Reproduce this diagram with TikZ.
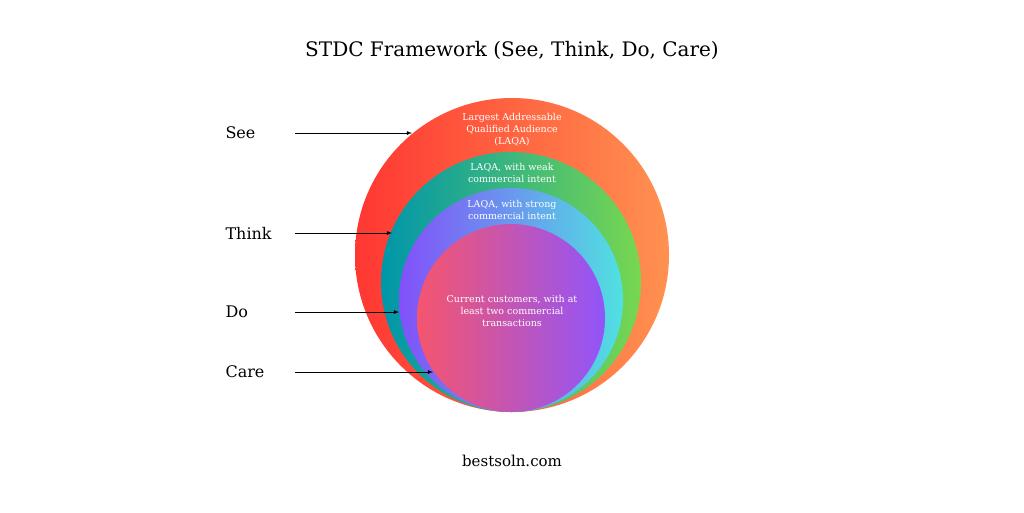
\documentclass[tikz,border=0pt]{standalone}
\usepackage{fontspec}
\setmainfont{DejaVu Serif}
\begin{document}
\begin{tikzpicture}[x=1pt,y=-1pt,
  lab/.style={font=\fontsize{16}{18}\selectfont,anchor=west},
  inner/.style={text=white,font=\fontsize{9.5}{12}\selectfont,align=center},
  arr/.style={-latex,thick}]
\useasboundingbox[fill=white] (0,0) rectangle (1024,512);
\node[font=\fontsize{20}{23}\selectfont] (title) at (512,50) {STDC Framework (See, Think, Do, Care)};
\shade[left color={rgb,255:red,255;green,55;blue,50}, right color={rgb,255:red,255;green,145;blue,80}] (512,255) circle (157);
\shade[left color={rgb,255:red,0;green,150;blue,170}, right color={rgb,255:red,120;green,215;blue,80}] (511,282) circle (130);
\shade[left color={rgb,255:red,130;green,80;blue,250}, right color={rgb,255:red,80;green,225;blue,225}] (511,300) circle (112);
\shade[left color={rgb,255:red,245;green,85;blue,110}, right color={rgb,255:red,145;green,85;blue,250}] (511,318) circle (94);
\coordinate (c1) at (412,133);
\coordinate (c2) at (392,233);
\coordinate (c3) at (399,312);
\coordinate (c4) at (433,372);
\coordinate (s1) at (295,133);
\coordinate (s2) at (295,233);
\coordinate (s3) at (295,312);
\coordinate (s4) at (295,372);
\node[inner] (t1) at (512,130) {Largest Addressable\\Qualified Audience\\(LAQA)};
\node[inner] (t2) at (512,173) {LAQA, with weak\\commercial intent};
\node[inner] (t3) at (512,210) {LAQA, with strong\\commercial intent};
\node[inner] (t4) at (512,311) {Current customers, with at\\least two commercial\\transactions};
\node[lab] (see) at (222,133) {See};
\node[lab] (think) at (222,233) {Think};
\node[lab] (do) at (222,312) {Do};
\node[lab] (care) at (222,372) {Care};
\draw[arr] (s1) -- (c1);
\draw[arr] (s2) -- (c2);
\draw[arr] (s3) -- (c3);
\draw[arr] (s4) -- (c4);
\node[font=\fontsize{15}{17}\selectfont] (url) at (512,461) {bestsoln.com};
\end{tikzpicture}
\end{document}
